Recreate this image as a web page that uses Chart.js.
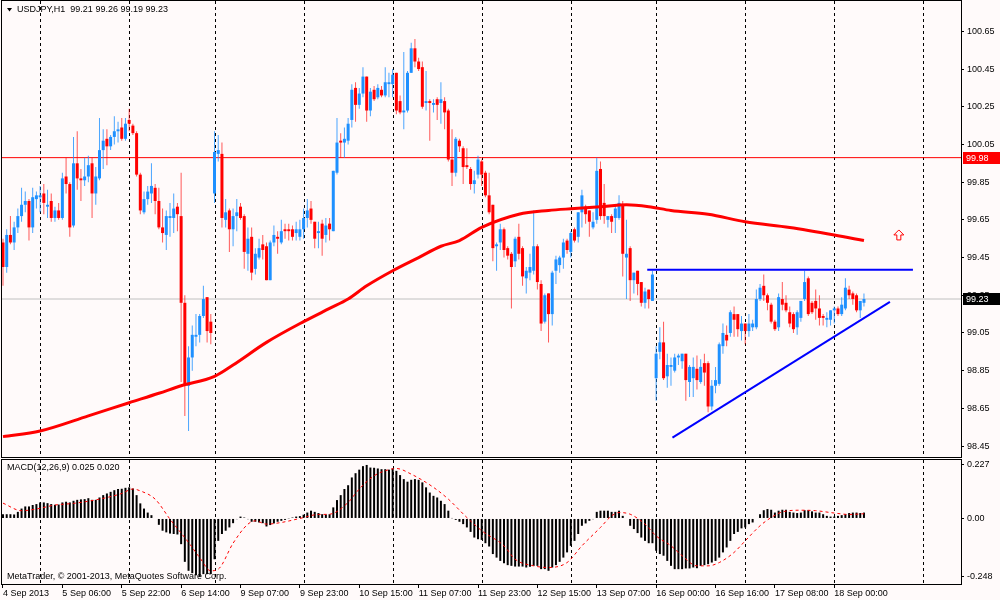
<!DOCTYPE html>
<html>
<head>
<meta charset="utf-8">
<title>USDJPY,H1</title>
<script src="https://cdn.jsdelivr.net/npm/chart.js@4.4.1/dist/chart.umd.min.js"></script>
<style>
  html, body { margin: 0; padding: 0; background: #fffafa; }
  #wrap { position: relative; width: 1000px; height: 600px; overflow: hidden; }
  canvas { position: absolute; left: 0; }
  #priceChart { top: 0; }
  #macdChart { top: 459px; }
</style>
</head>
<body>
<div id="wrap">
  <canvas id="priceChart" width="1000" height="459"></canvas>
  <canvas id="macdChart" width="1000" height="141"></canvas>
</div>
<script>
// time axis (bar index 0 = 4 Sep 2013 14:00, one bar per hour)
const dateLabels = ['4 Sep 2013', '5 Sep 06:00', '5 Sep 22:00', '6 Sep 14:00', '9 Sep 07:00', '9 Sep 23:00',
    '10 Sep 15:00', '11 Sep 07:00', '11 Sep 23:00', '12 Sep 15:00', '13 Sep 07:00', '16 Sep 00:00',
    '16 Sep 16:00', '17 Sep 08:00', '18 Sep 00:00'];
const labelBars = [0, 16, 32, 48, 64, 80, 96, 112, 128, 144, 160, 176, 192, 208, 224];
const daySeparators = [10, 34, 57, 81, 105, 129, 153, 176, 200, 224, 248];

const opens = [
    99.53, 99.40, 99.57, 99.53, 99.61, 99.67, 99.73, 99.75, 99.61, 99.76,
    99.77, 99.79, 99.72, 99.75, 99.66, 99.70, 99.66, 99.88, 99.84, 99.62,
    99.95, 99.87, 99.86, 99.88, 99.95, 99.79, 99.87, 100.02, 100.08, 100.04,
    100.09, 100.12, 100.14, 100.08, 100.18, 100.15, 100.11, 99.89, 99.69, 99.76,
    99.79, 99.82, 99.75, 99.61, 99.57, 99.66, 99.66, 99.72, 99.67, 99.21,
    98.77, 98.92, 99.03, 99.04, 99.14, 99.24, 99.11, 99.79, 100.00, 100.00,
    99.65, 99.70, 99.60, 99.67, 99.72, 99.67, 99.47, 99.56, 99.39, 99.45,
    99.52, 99.51, 99.33, 99.53, 99.56, 99.53, 99.60, 99.60, 99.60, 99.58,
    99.56, 99.60, 99.66, 99.71, 99.64, 99.58, 99.63, 99.57, 99.63, 99.59,
    99.90, 100.07, 100.06, 100.07, 100.18, 100.35, 100.26, 100.32, 100.41, 100.23,
    100.34, 100.30, 100.34, 100.31, 100.37, 100.37, 100.43, 100.28, 100.22, 100.23,
    100.43, 100.56, 100.49, 100.46, 100.27, 100.28, 100.26, 100.29, 100.27, 100.28,
    100.23, 99.97, 99.90, 100.07, 100.03, 99.94, 99.92, 99.84, 99.89, 99.96,
    99.90, 99.78, 99.73, 99.51, 99.53, 99.60, 99.50, 99.47, 99.43, 99.56,
    99.50, 99.34, 99.37, 99.38, 99.51, 99.31, 99.11, 99.26, 99.15, 99.38,
    99.41, 99.45, 99.54, 99.48, 99.60, 99.56, 99.69, 99.72, 99.70, 99.61,
    99.65, 99.92, 99.74, 99.65, 99.67, 99.66, 99.66, 99.73, 99.45, 99.50,
    99.33, 99.38, 99.32, 99.21, 99.28, 99.22, 98.81, 98.95, 99.00, 98.82,
    98.87, 98.85, 98.92, 98.90, 98.94, 98.79, 98.81, 98.86, 98.79, 98.89,
    98.89, 98.66, 98.77, 98.78, 98.98, 99.04, 99.05, 99.15, 99.15, 99.06,
    99.10, 99.06, 99.08, 99.08, 99.23, 99.30, 99.25, 99.20, 99.11, 99.08,
    99.23, 99.21, 99.16, 99.15, 99.08, 99.13, 99.23, 99.34, 99.21, 99.22,
    99.18, 99.14, 99.12, 99.12, 99.17, 99.18, 99.15, 99.18, 99.28, 99.26,
    99.25, 99.17, 99.21
];
const highs = [
    99.55, 99.60, 99.67, 99.64, 99.71, 99.82, 99.80, 99.76, 99.82, 99.80,
    99.83, 99.84, 99.81, 99.79, 99.72, 99.74, 99.90, 99.98, 99.85, 100.09,
    100.12, 99.92, 99.98, 99.99, 99.98, 99.93, 100.19, 100.13, 100.13, 100.10,
    100.20, 100.17, 100.19, 100.19, 100.24, 100.16, 100.12, 99.90, 99.80, 99.83,
    99.95, 99.84, 99.82, 99.71, 99.70, 99.74, 99.79, 99.74, 99.90, 99.25,
    98.98, 99.09, 99.15, 99.15, 99.30, 99.24, 99.15, 100.12, 100.10, 100.06,
    99.76, 99.71, 99.71, 99.76, 99.74, 99.68, 99.61, 99.61, 99.50, 99.55,
    99.57, 99.53, 99.54, 99.62, 99.59, 99.65, 99.63, 99.63, 99.62, 99.64,
    99.65, 99.71, 99.76, 99.75, 99.64, 99.64, 99.65, 99.66, 99.66, 99.91,
    100.19, 100.11, 100.14, 100.19, 100.37, 100.38, 100.35, 100.46, 100.41, 100.35,
    100.36, 100.37, 100.36, 100.46, 100.43, 100.45, 100.43, 100.31, 100.54, 100.44,
    100.59, 100.61, 100.51, 100.49, 100.44, 100.29, 100.29, 100.30, 100.38, 100.30,
    100.24, 100.13, 100.09, 100.08, 100.04, 100.03, 99.93, 99.91, 99.99, 99.97,
    99.91, 99.90, 99.73, 99.53, 99.63, 99.61, 99.51, 99.48, 99.56, 99.63,
    99.51, 99.40, 99.47, 99.70, 99.52, 99.33, 99.26, 99.26, 99.38, 99.46,
    99.46, 99.55, 99.55, 99.59, 99.61, 99.69, 99.81, 99.73, 99.70, 99.69,
    99.98, 99.96, 99.84, 99.67, 99.68, 99.73, 99.78, 99.75, 99.65, 99.51,
    99.37, 99.38, 99.32, 99.29, 99.28, 99.38, 98.98, 99.08, 99.11, 98.94,
    98.92, 98.94, 98.94, 98.94, 98.94, 98.88, 98.92, 98.93, 98.91, 98.94,
    98.90, 98.80, 98.87, 99.00, 99.10, 99.09, 99.17, 99.19, 99.15, 99.14,
    99.10, 99.15, 99.12, 99.28, 99.31, 99.36, 99.26, 99.21, 99.12, 99.26,
    99.32, 99.25, 99.19, 99.16, 99.17, 99.22, 99.38, 99.35, 99.22, 99.28,
    99.25, 99.15, 99.16, 99.17, 99.19, 99.19, 99.24, 99.34, 99.30, 99.27,
    99.26, 99.22, 99.26
];
const lows = [
    99.30, 99.37, 99.52, 99.49, 99.58, 99.64, 99.69, 99.54, 99.58, 99.71,
    99.69, 99.68, 99.66, 99.64, 99.64, 99.65, 99.65, 99.79, 99.56, 99.61,
    99.81, 99.75, 99.83, 99.85, 99.66, 99.73, 99.86, 99.92, 99.94, 100.02,
    100.05, 100.06, 100.07, 100.07, 100.12, 100.10, 99.88, 99.68, 99.68, 99.73,
    99.74, 99.68, 99.60, 99.53, 99.49, 99.56, 99.58, 99.59, 98.79, 98.61,
    98.53, 98.85, 98.98, 99.00, 99.13, 99.00, 98.99, 99.74, 99.96, 99.61,
    99.61, 99.48, 99.51, 99.59, 99.65, 99.39, 99.38, 99.33, 99.36, 99.44,
    99.44, 99.33, 99.33, 99.51, 99.47, 99.52, 99.55, 99.54, 99.54, 99.54,
    99.54, 99.55, 99.61, 99.63, 99.50, 99.50, 99.46, 99.53, 99.54, 99.59,
    99.89, 99.98, 99.98, 100.05, 100.14, 100.17, 100.24, 100.30, 100.17, 100.20,
    100.28, 100.29, 100.30, 100.30, 100.30, 100.30, 100.21, 100.21, 100.13, 100.22,
    100.43, 100.46, 100.44, 100.24, 100.23, 100.07, 100.22, 100.18, 100.16, 100.13,
    99.96, 99.83, 99.88, 100.01, 99.84, 99.92, 99.81, 99.79, 99.87, 99.83,
    99.77, 99.68, 99.43, 99.38, 99.49, 99.45, 99.44, 99.18, 99.40, 99.44,
    99.30, 99.26, 99.33, 99.36, 99.28, 99.06, 99.10, 99.00, 99.09, 99.31,
    99.37, 99.39, 99.47, 99.45, 99.53, 99.53, 99.61, 99.63, 99.56, 99.60,
    99.63, 99.65, 99.63, 99.61, 99.58, 99.58, 99.65, 99.35, 99.23, 99.22,
    99.26, 99.25, 99.19, 99.18, 99.18, 99.22, 98.69, 98.91, 98.80, 98.76,
    98.77, 98.84, 98.88, 98.86, 98.69, 98.71, 98.71, 98.75, 98.78, 98.77,
    98.63, 98.64, 98.73, 98.77, 98.94, 98.98, 99.03, 99.03, 99.03, 99.01,
    98.99, 99.03, 99.06, 99.07, 99.22, 99.22, 99.17, 99.10, 99.06, 99.06,
    99.17, 99.16, 99.08, 99.05, 99.04, 99.11, 99.22, 99.14, 99.15, 99.12,
    99.09, 99.09, 99.08, 99.09, 99.10, 99.14, 99.14, 99.17, 99.23, 99.20,
    99.16, 99.13, 99.19
];
const closes = [
    99.40, 99.57, 99.53, 99.61, 99.67, 99.73, 99.75, 99.61, 99.77, 99.78,
    99.78, 99.74, 99.73, 99.66, 99.70, 99.66, 99.87, 99.84, 99.61, 99.95,
    99.87, 99.86, 99.88, 99.94, 99.79, 99.88, 100.02, 100.07, 100.04, 100.09,
    100.12, 100.13, 100.08, 100.16, 100.16, 100.11, 99.89, 99.70, 99.76, 99.80,
    99.83, 99.75, 99.61, 99.58, 99.67, 99.67, 99.71, 99.68, 99.21, 98.77,
    98.92, 99.04, 99.04, 99.14, 99.23, 99.06, 99.05, 100.01, 100.02, 99.66,
    99.69, 99.60, 99.67, 99.69, 99.66, 99.48, 99.55, 99.37, 99.47, 99.50,
    99.49, 99.33, 99.53, 99.57, 99.55, 99.59, 99.59, 99.59, 99.56, 99.60,
    99.60, 99.66, 99.70, 99.65, 99.55, 99.59, 99.55, 99.62, 99.60, 99.91,
    100.06, 100.06, 100.08, 100.16, 100.34, 100.26, 100.32, 100.41, 100.23, 100.33,
    100.29, 100.35, 100.31, 100.38, 100.38, 100.42, 100.23, 100.22, 100.23, 100.43,
    100.56, 100.49, 100.45, 100.25, 100.28, 100.27, 100.27, 100.26, 100.29, 100.22,
    99.97, 99.90, 100.08, 100.04, 99.93, 99.93, 99.84, 99.86, 99.97, 99.89,
    99.78, 99.69, 99.50, 99.52, 99.60, 99.49, 99.46, 99.40, 99.55, 99.47,
    99.35, 99.38, 99.40, 99.51, 99.32, 99.10, 99.25, 99.15, 99.37, 99.44,
    99.45, 99.53, 99.49, 99.58, 99.54, 99.69, 99.78, 99.68, 99.64, 99.64,
    99.91, 99.67, 99.67, 99.67, 99.64, 99.71, 99.74, 99.47, 99.47, 99.33,
    99.37, 99.31, 99.21, 99.27, 99.23, 99.36, 98.94, 99.00, 98.81, 98.88,
    98.88, 98.92, 98.93, 98.94, 98.80, 98.87, 98.87, 98.80, 98.87, 98.84,
    98.66, 98.77, 98.80, 98.99, 99.05, 99.01, 99.16, 99.12, 99.07, 99.10,
    99.06, 99.10, 99.10, 99.23, 99.29, 99.25, 99.21, 99.11, 99.07, 99.24,
    99.20, 99.17, 99.10, 99.07, 99.16, 99.22, 99.32, 99.15, 99.16, 99.18,
    99.13, 99.13, 99.13, 99.17, 99.18, 99.15, 99.20, 99.29, 99.25, 99.23,
    99.17, 99.22, 99.23
];

// moving average at a few bars
const maBars = [0, 10, 23, 34, 42, 48, 57, 62, 71, 81, 88, 93, 98, 105, 112, 118, 123, 129, 139, 147,
    154, 161, 168, 174, 180, 190, 200, 212, 224, 232];
const maValues = [98.50, 98.53, 98.61, 98.68, 98.73, 98.77, 98.82, 98.88, 99.00, 99.11, 99.18, 99.23, 99.30,
    99.38, 99.45, 99.51, 99.54, 99.61, 99.68, 99.70, 99.71, 99.72, 99.73, 99.72, 99.70, 99.68, 99.64, 99.61,
    99.57, 99.54];

const macdHist = [
    0.018, 0.018, 0.018, 0.017, 0.028, 0.042, 0.051, 0.051, 0.057, 0.061,
    0.068, 0.068, 0.065, 0.061, 0.058, 0.059, 0.068, 0.071, 0.068, 0.075,
    0.079, 0.081, 0.082, 0.086, 0.079, 0.079, 0.089, 0.099, 0.106, 0.113,
    0.120, 0.125, 0.126, 0.130, 0.132, 0.127, 0.099, 0.064, 0.042, 0.025,
    0.014, -0.002, -0.027, -0.052, -0.059, -0.064, -0.066, -0.068, -0.109, -0.184,
    -0.222, -0.232, -0.241, -0.248, -0.236, -0.236, -0.236, -0.173, -0.095, -0.066,
    -0.052, -0.038, -0.020, -0.003, 0.008, 0.004, -0.003, -0.014, -0.014, -0.017,
    -0.020, -0.034, -0.028, -0.021, -0.014, -0.010, -0.006, -0.001, 0.004, 0.008,
    0.010, 0.016, 0.025, 0.033, 0.028, 0.023, 0.018, 0.017, 0.018, 0.047,
    0.078, 0.099, 0.125, 0.141, 0.174, 0.192, 0.207, 0.222, 0.227, 0.216,
    0.215, 0.212, 0.209, 0.209, 0.207, 0.212, 0.202, 0.184, 0.167, 0.156,
    0.164, 0.167, 0.164, 0.153, 0.132, 0.110, 0.096, 0.089, 0.075, 0.061,
    0.033, 0.001, -0.006, -0.014, -0.024, -0.038, -0.057, -0.081, -0.088, -0.091,
    -0.105, -0.119, -0.151, -0.166, -0.180, -0.190, -0.198, -0.201, -0.204, -0.204,
    -0.204, -0.208, -0.205, -0.201, -0.201, -0.215, -0.215, -0.222, -0.208, -0.198,
    -0.184, -0.166, -0.144, -0.116, -0.095, -0.066, -0.031, -0.021, -0.010, -0.003,
    0.028, 0.033, 0.033, 0.033, 0.028, 0.028, 0.033, 0.011, 0.000, -0.031,
    -0.045, -0.062, -0.081, -0.095, -0.105, -0.105, -0.137, -0.151, -0.158, -0.180,
    -0.201, -0.215, -0.215, -0.215, -0.212, -0.212, -0.208, -0.211, -0.201, -0.198,
    -0.194, -0.187, -0.180, -0.166, -0.144, -0.123, -0.095, -0.066, -0.057, -0.042,
    -0.038, -0.024, -0.017, 0.000, 0.018, 0.035, 0.040, 0.037, 0.025, 0.033,
    0.037, 0.037, 0.028, 0.025, 0.023, 0.025, 0.035, 0.035, 0.030, 0.025,
    0.025, 0.018, 0.011, 0.008, 0.008, 0.011, 0.014, 0.018, 0.023, 0.025,
    0.025, 0.023, 0.025
];
const signalBars = [0, 5, 9, 14, 19, 26, 32, 35, 37, 41, 45, 50, 53, 56, 58, 62, 66, 68, 71, 75,
    80, 85, 88, 93, 96, 100, 104, 106, 110, 116, 120, 125, 129, 135, 138, 143, 147, 152, 156, 161,
    164, 166, 169, 173, 176, 180, 183, 187, 190, 193, 197, 200, 204, 207, 210, 215, 219, 224, 228, 232];
const signalValues = [0.065, 0.033, 0.040, 0.057, 0.064, 0.082, 0.106, 0.125, 0.117, 0.082,
    -0.003, -0.102, -0.166, -0.222, -0.215, -0.105, -0.024, -0.010, -0.024, -0.017,
    0.000, 0.017, 0.018, 0.068, 0.125, 0.181, 0.207, 0.212, 0.188, 0.132,
    0.082, 0.004, -0.052, -0.116, -0.173, -0.201, -0.208, -0.187, -0.116, -0.038,
    0.011, 0.025, 0.018, -0.024, -0.074, -0.116, -0.158, -0.201, -0.201, -0.187,
    -0.144, -0.095, -0.031, 0.004, 0.028, 0.035, 0.033, 0.023, 0.017, 0.020];

const priceTicks = [100.65, 100.45, 100.25, 100.05, 99.85, 99.65, 99.45, 99.25, 99.05, 98.85, 98.65, 98.45];
const macdTicks = [0.227, 0, -0.248];
const macdTickText = ['0.227', '0.00', '-0.248'];

// drawn objects: [bar, price]
const hLevel = 99.98;
const resistStart = [173.6, 99.385], resistEnd = [245.2, 99.385];
const supportStart = [180.4, 98.495], supportEnd = [239.0, 99.215];
const arrowAt = [241.4, 99.57];

const X_MIN = -0.269, X_MAX = 258.15;
const FAMILY = '"Liberation Sans", Arial, sans-serif';
const UP = '#1e90ff', DOWN = '#ff0000';
const UP_WICK = 'rgba(30,144,255,0.8)', DOWN_WICK = 'rgba(255,0,0,0.65)';

Chart.defaults.font.family = FAMILY;
Chart.defaults.font.size = 9;
Chart.defaults.color = '#000';

const last = closes.length - 1;
const bid = closes[last];
const isUp = closes.map((c, i) => c >= opens[i]);

// keep the panels flush: no extra room for the end tick labels
const fitRight = axis => {
    axis.width = 39;
    axis.paddingTop = 0;
    axis.paddingBottom = 0;
};

// dashed day separators + black frame, shared by both panels
const panelPlugin = {
    id: 'panel',
    beforeDatasetsDraw(chart) {
        const { ctx, chartArea: a } = chart;
        const x = chart.scales.x;
        ctx.save();
        ctx.strokeStyle = '#000';
        ctx.lineWidth = 1;
        ctx.setLineDash([3, 3]);
        daySeparators.forEach(b => {
            const px = Math.round(x.getPixelForValue(b)) + 0.5;
            ctx.beginPath();
            ctx.moveTo(px, a.top);
            ctx.lineTo(px, a.bottom);
            ctx.stroke();
        });
        ctx.restore();
    },
    afterDraw(chart) {
        const { ctx, chartArea: a } = chart;
        ctx.save();
        ctx.strokeStyle = '#000';
        ctx.lineWidth = 1;
        ctx.strokeRect(a.left - 0.5, a.top - 0.5, a.right - a.left + 1, a.bottom - a.top + 1);
        ctx.restore();
    }
};

const priceOverlay = {
    id: 'priceOverlay',
    afterDraw(chart) {
        const { ctx } = chart;
        const x = chart.scales.x, y = chart.scales.y;
        ctx.save();
        ctx.font = '9px ' + FAMILY;
        ctx.textBaseline = 'middle';

        // header
        ctx.fillStyle = '#000';
        ctx.beginPath();
        ctx.moveTo(7, 8); ctx.lineTo(12, 8); ctx.lineTo(9.5, 11.5); ctx.closePath();
        ctx.fill();
        ctx.fillText('USDJPY,H1  ' + [opens[last], highs[last], lows[last], closes[last]].map(v => v.toFixed(2)).join(' '), 17, 10);

        // price tags on the axis
        const tag = (price, bg) => {
            const py = Math.round(y.getPixelForValue(price));
            const left = y.left + 2;
            ctx.fillStyle = bg;
            ctx.fillRect(left, py - 6, 1000 - left, 12);
            ctx.fillStyle = '#fff';
            ctx.fillText(price.toFixed(2), left + 3, py + 0.5);
        };
        tag(hLevel, '#ff0000');
        tag(bid, '#000');

        // arrow object
        const ax = x.getPixelForValue(arrowAt[0]), ay = y.getPixelForValue(arrowAt[1]);
        ctx.strokeStyle = '#ff0000';
        ctx.lineWidth = 1;
        ctx.beginPath();
        ctx.moveTo(ax, ay - 5); ctx.lineTo(ax + 5, ay); ctx.lineTo(ax + 2, ay);
        ctx.lineTo(ax + 2, ay + 5); ctx.lineTo(ax - 2, ay + 5); ctx.lineTo(ax - 2, ay);
        ctx.lineTo(ax - 5, ay); ctx.closePath();
        ctx.stroke();
        ctx.restore();
    }
};

const macdOverlay = {
    id: 'macdOverlay',
    afterDraw(chart) {
        const { ctx, chartArea: a } = chart;
        ctx.save();
        ctx.font = '9px ' + FAMILY;
        ctx.textBaseline = 'middle';
        ctx.fillStyle = '#000';
        ctx.fillText('MACD(12,26,9) ' + macdHist[last].toFixed(3) + ' ' + signalValues[signalValues.length - 1].toFixed(3), 7, a.top + 7.5);
        ctx.fillText('MetaTrader, \u00a9 2001-2013, MetaQuotes Software Corp.', 7, a.bottom - 7);
        ctx.restore();
    }
};

const flatLine = (level, color, order) => ({
    type: 'line',
    data: [{ x: X_MIN, y: level }, { x: X_MAX, y: level }],
    borderColor: color, borderWidth: 1, pointRadius: 0, order: order
});

new Chart(document.getElementById('priceChart'), {
    type: 'bar',
    data: {
        datasets: [
            flatLine(hLevel, '#ff0000', 6),
            flatLine(bid, '#c0c0c0', 6),
            {
                data: lows.map((l, i) => ({ x: i, y: [l, highs[i]] })),
                backgroundColor: isUp.map(u => u ? UP_WICK : DOWN_WICK),
                barThickness: 1, grouped: false, inflateAmount: 0, order: 4
            },
            {
                data: opens.map((o, i) => ({ x: i, y: [o, closes[i]] })),
                backgroundColor: isUp.map(u => u ? UP : DOWN),
                barThickness: 3, minBarLength: 1, grouped: false, inflateAmount: 0, order: 3
            },
            {
                type: 'line',
                data: maBars.map((b, k) => ({ x: b, y: maValues[k] })),
                borderColor: '#ff0000', borderWidth: 3, pointRadius: 0,
                cubicInterpolationMode: 'monotone', order: 1
            },
            {
                type: 'line',
                data: [{ x: resistStart[0], y: resistStart[1] }, { x: resistEnd[0], y: resistEnd[1] }],
                borderColor: '#0000ff', borderWidth: 2, pointRadius: 0, order: 0
            },
            {
                type: 'line',
                data: [{ x: supportStart[0], y: supportStart[1] }, { x: supportEnd[0], y: supportEnd[1] }],
                borderColor: '#0000ff', borderWidth: 2, pointRadius: 0, order: 0
            }
        ]
    },
    options: {
        responsive: false,
        animation: false,
        events: [],
        layout: { padding: { left: 2, top: 1, right: 0, bottom: 2 } },
        plugins: { legend: { display: false }, tooltip: { enabled: false } },
        scales: {
            x: { type: 'linear', min: X_MIN, max: X_MAX, offset: false, display: false },
            y: {
                position: 'right',
                min: 98.392,
                max: 100.811,
                afterBuildTicks: axis => { axis.ticks = priceTicks.map(v => ({ value: v })); },
                afterFit: fitRight,
                ticks: { callback: v => v.toFixed(2), padding: 3 },
                grid: { drawOnChartArea: false, drawTicks: true, tickLength: 3, color: '#000' },
                border: { display: true, color: '#000' }
            }
        }
    },
    plugins: [panelPlugin, priceOverlay]
});

new Chart(document.getElementById('macdChart'), {
    type: 'bar',
    data: {
        datasets: [
            {
                data: macdHist.map((v, i) => ({ x: i, y: v })),
                backgroundColor: '#000',
                barThickness: 2, inflateAmount: 0, order: 1
            },
            {
                type: 'line',
                data: signalBars.map((b, k) => ({ x: b, y: signalValues[k] })),
                borderColor: '#ff0000', borderWidth: 1, borderDash: [3, 3],
                pointRadius: 0, cubicInterpolationMode: 'monotone', order: 0
            }
        ]
    },
    options: {
        responsive: false,
        animation: false,
        events: [],
        layout: { padding: { left: 2, top: 1, right: 0, bottom: 0 } },
        plugins: { legend: { display: false }, tooltip: { enabled: false } },
        scales: {
            x: {
                type: 'linear', min: X_MIN, max: X_MAX, offset: false,
                afterBuildTicks: axis => { axis.ticks = labelBars.map(v => ({ value: v })); },
                afterFit: axis => { axis.height = 16; axis.paddingLeft = 0; axis.paddingRight = 0; },
                ticks: {
                    callback: v => dateLabels[labelBars.indexOf(v)],
                    align: 'start', autoSkip: false, maxRotation: 0, padding: 0
                },
                grid: { drawOnChartArea: false, drawTicks: true, tickLength: 4, color: '#000', offset: false },
                border: { display: true, color: '#000' }
            },
            y: {
                position: 'right',
                min: -0.278,
                max: 0.248,
                afterBuildTicks: axis => { axis.ticks = macdTicks.map(v => ({ value: v })); },
                afterFit: fitRight,
                ticks: { callback: (v, i) => macdTickText[i], padding: 3 },
                grid: { drawOnChartArea: false, drawTicks: true, tickLength: 3, color: '#000' },
                border: { display: true, color: '#000' }
            }
        }
    },
    plugins: [panelPlugin, macdOverlay]
});
</script>
</body>
</html>
